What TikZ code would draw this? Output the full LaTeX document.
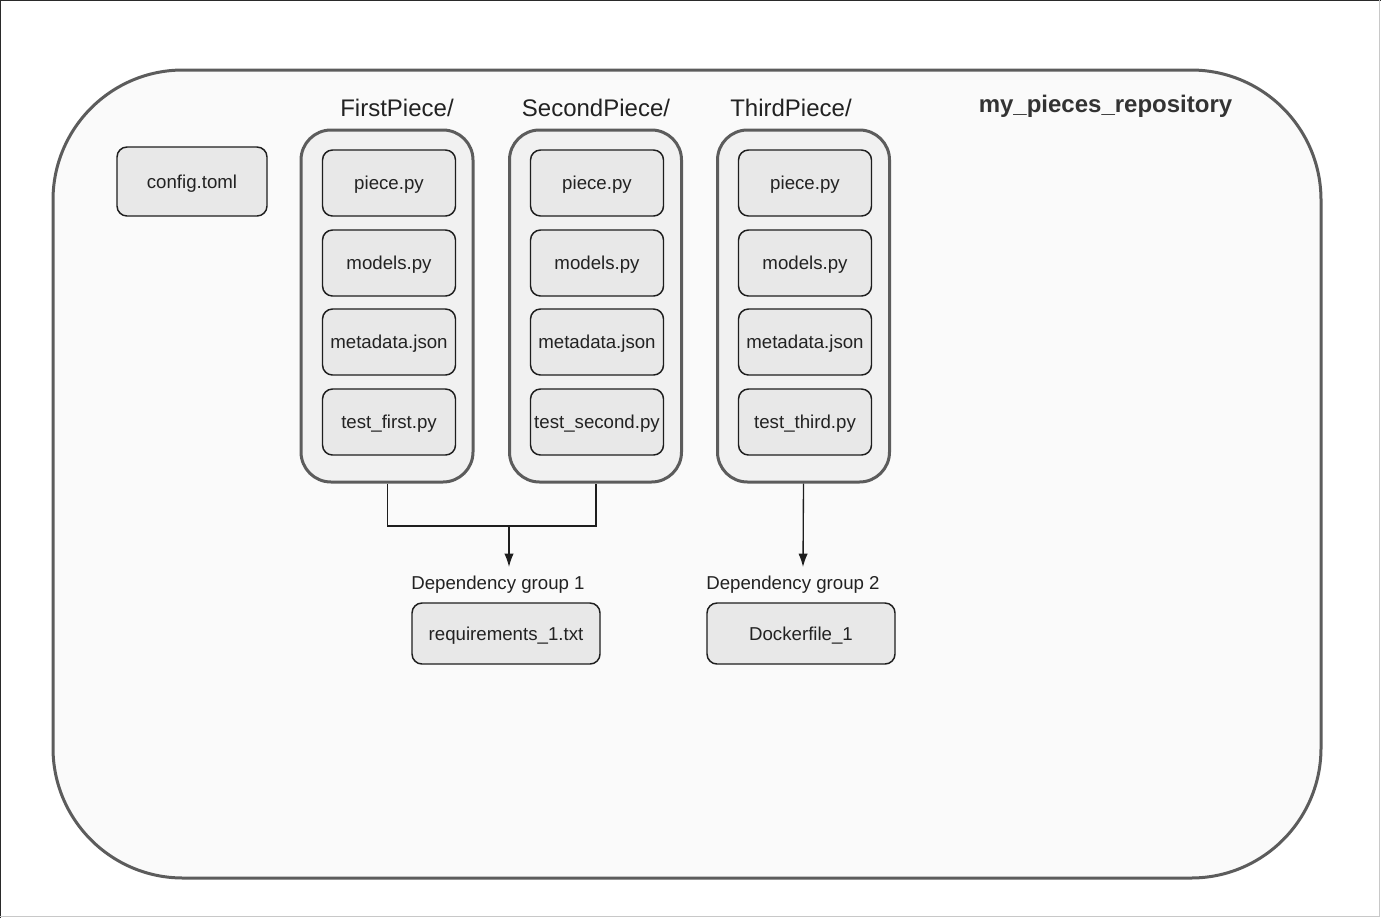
\documentclass[tikz,border=0pt]{standalone}
\usepackage{fontspec}
\setmainfont{Liberation Sans}
\usetikzlibrary{arrows.meta}
\definecolor{repoedge}{HTML}{5C5C5C}
\definecolor{repofill}{HTML}{FAFAFA}
\definecolor{folderfill}{HTML}{F1F1F1}
\definecolor{filefill}{HTML}{E8E8E8}
\definecolor{fileedge}{HTML}{1E1E1E}
\definecolor{inktext}{HTML}{222222}
\definecolor{titletext}{HTML}{333333}
\definecolor{frameedge}{HTML}{2A2A2A}
\definecolor{framelight}{HTML}{C8C8C8}
\begin{document}
\begin{tikzpicture}[x=0.75pt,y=-0.75pt,
  filebox/.style={draw=fileedge, fill=filefill, rounded corners=7.5pt, line width=1.1pt,
    minimum width=99.75pt, minimum height=49.5pt, inner sep=0pt,
    text height=12pt, text depth=2pt,
    font=\fontsize{14}{17}\selectfont, text=inktext},
  folderbox/.style={draw=repoedge, fill=folderfill, rounded corners=22.5pt, line width=2.25pt,
    minimum width=129pt, minimum height=264pt, inner sep=0pt},
  foldername/.style={font=\fontsize{18}{21}\selectfont, text=inktext, inner sep=0pt},
  grouplabel/.style={font=\fontsize{14}{17}\selectfont, text=inktext, inner sep=0pt},
  link/.style={draw=fileedge, line width=1pt},
  tip/.style={-{Latex[length=10pt,width=7pt]}}
]
% page frame
\useasboundingbox (0,0) rectangle (1381,918);
\fill[white] (0,0) rectangle (1381,918);
\draw[frameedge, line width=1pt] (0.6,918) -- (0.6,0.6) -- (1381,0.6);
\draw[framelight, line width=1pt] (1379.4,0) -- (1379.4,916.4) -- (0,916.4);

% repository container
\draw[draw=repoedge, fill=repofill, line width=2.25pt, rounded corners=97.5pt]
  (53,70) rectangle (1321,878);
\node[font=\fontsize{18}{21}\selectfont\bfseries, text=titletext, inner sep=0pt]
  (repotitle) at (1105.5,106) {my\_pieces\_repository};

\node[filebox, minimum width=112.5pt, minimum height=51.75pt] (config) at (192,181.5) {config.toml};

% piece folders
\node[folderbox] (f1) at (387,306) {};
\node[folderbox] (f2) at (595.5,306) {};
\node[folderbox] (f3) at (803.5,306) {};
\node[foldername] (f1name) at (397,108) {FirstPiece/};
\node[foldername] (f2name) at (596,108) {SecondPiece/};
\node[foldername] (f3name) at (791,108) {ThirdPiece/};

\node[filebox] (piece1) at (389,183) {piece.py};
\node[filebox] (models1) at (389,263) {models.py};
\node[filebox] (meta1) at (389,342) {metadata.json};
\node[filebox] (test1) at (389,422) {test\_first.py};

\node[filebox] (piece2) at (597,183) {piece.py};
\node[filebox] (models2) at (597,263) {models.py};
\node[filebox] (meta2) at (597,342) {metadata.json};
\node[filebox] (test2) at (597,422) {test\_second.py};

\node[filebox] (piece3) at (805,183) {piece.py};
\node[filebox] (models3) at (805,263) {models.py};
\node[filebox] (meta3) at (805,342) {metadata.json};
\node[filebox] (test3) at (805,422) {test\_third.py};

% dependency groups
\node[grouplabel] (dg1) at (498,585) {Dependency group 1};
\node[grouplabel] (dg2) at (793,585) {Dependency group 2};
\node[filebox, minimum width=141pt, minimum height=45.75pt] (req) at (506,633.5) {requirements\_1.txt};
\node[filebox, minimum width=141pt, minimum height=45.75pt] (docker) at (801,633.5) {Dockerfile\_1};

% connectors
\coordinate (join) at (509,526);
\coordinate (dg1top) at (509,567);
\coordinate (dg2top) at (803,567);
\draw[link] (f1.south -| 387.5,0) |- (join) -| (f2.south -| 596,0);
\draw[link, tip] (join) -- (dg1top);
\draw[link, tip] (f3.south) -- (dg2top);
\end{tikzpicture}
\end{document}
